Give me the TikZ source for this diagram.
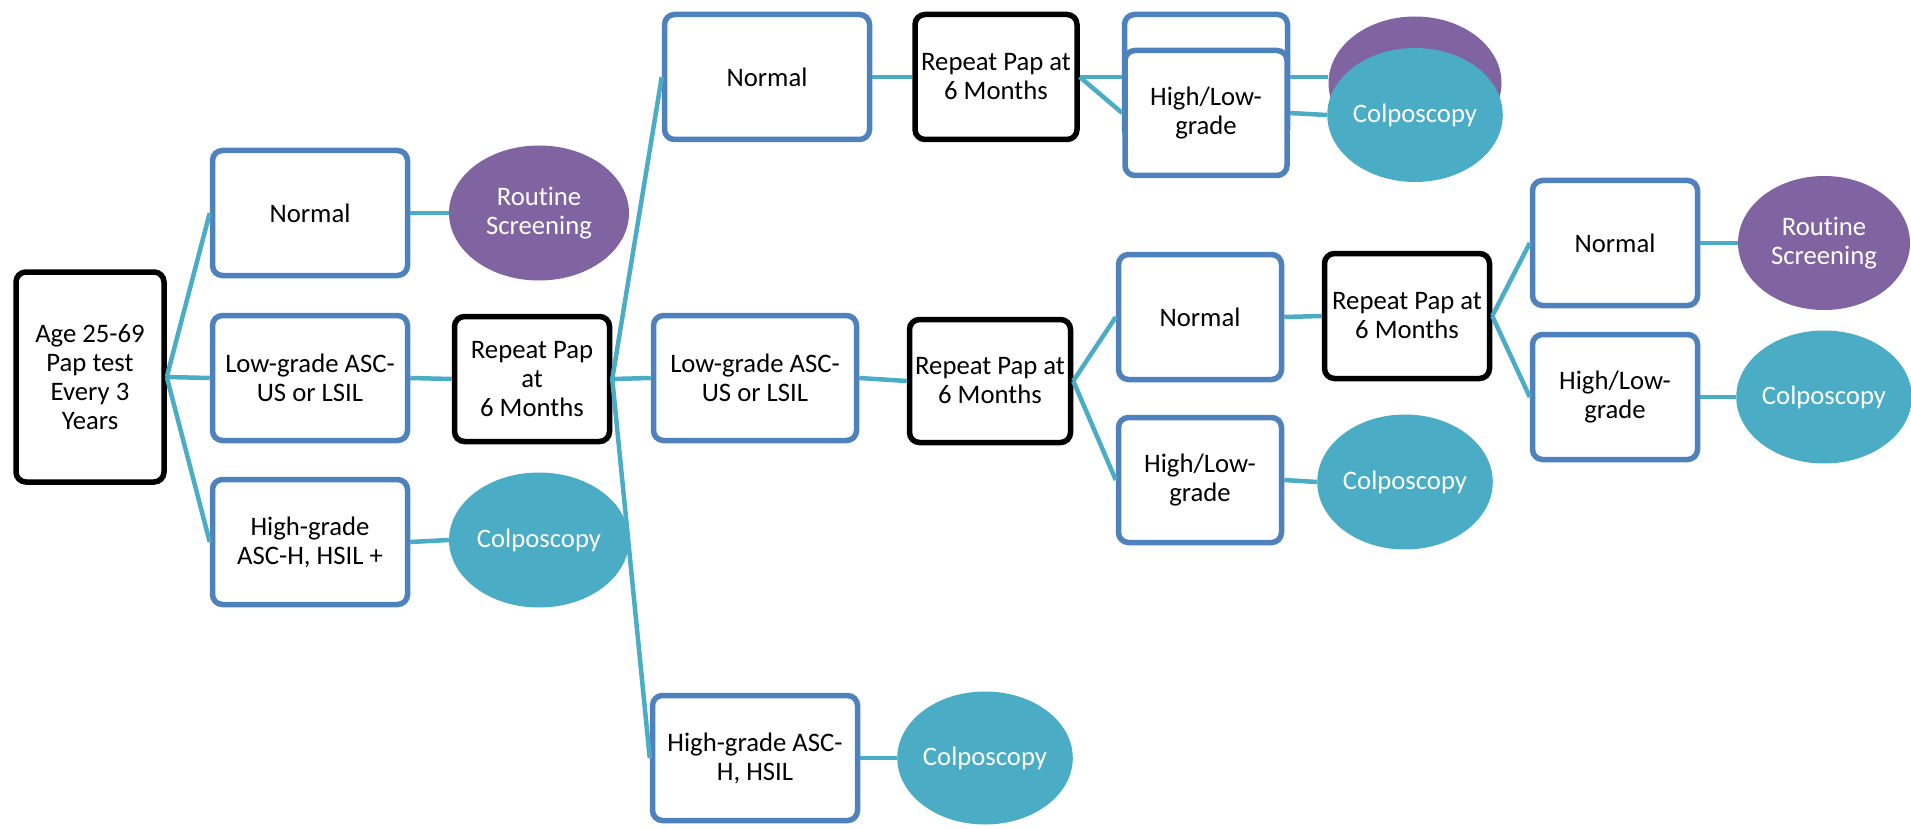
\documentclass[tikz,border=0pt]{standalone}
\usepackage{fontspec}
\setmainfont{Carlito}[Ligatures=CommonOff]
\usepackage{tikz}
\usetikzlibrary{shapes.geometric}
\definecolor{boxblue}{RGB}{79,129,189}
\definecolor{linkblue}{RGB}{75,172,198}
\definecolor{routpurple}{RGB}{128,100,162}
\tikzset{
  papnode/.style = {align=center, inner sep=0pt, text centered,
    font=\fontsize{26.7}{29}\selectfont},
  box_k/.style = {papnode, rectangle, rounded corners=10pt, draw=black,
    fill=white, line width=5.5pt, minimum height=125pt},% black box, repeat pap
  box_b/.style = {papnode, rectangle, rounded corners=10pt, draw=boxblue,
    fill=white, line width=5.5pt, minimum height=125pt},% blue box, result
  ell_p/.style = {papnode, ellipse, fill=routpurple, text=white},% routine screening
  ell_t/.style = {papnode, ellipse, fill=linkblue, text=white},% colposcopy
  link/.style = {draw=linkblue, line width=4.5pt}
}
\begin{document}
\begin{tikzpicture}[x=1pt,y=-1pt]
\useasboundingbox (0,0) rectangle (1911,829);
% first level
\node [box_k, minimum width=148pt, minimum height=210pt] (age) at (90,377) {Age 25-69\\Pap test\\Every 3\\Years};
\node [box_b, minimum width=195pt] (norm1) at (310,213) {Normal};
\node [box_b, minimum width=195pt] (low1) at (310,378) {Low-grade ASC-\\US or LSIL};
\node [box_b, minimum width=195pt] (high1) at (310,542) {High-grade\\ASC-H, HSIL +};
\node [ell_p, minimum width=180pt, minimum height=135pt] (rout1) at (539,213) {Routine\\Screening};
\node [box_k, minimum width=155pt] (rep1) at (532,379) {Repeat Pap\\at\\6 Months};
\node [ell_t, minimum width=180pt, minimum height=135pt] (colpo1) at (539,540) {Colposcopy};
% second level
\node [box_b, minimum width=205pt] (norm2) at (767,77) {Normal};
\node [box_k, minimum width=162pt] (rep2) at (996,77) {Repeat Pap at\\6 Months};
\node [box_b, minimum width=203pt] (low2) at (755,378) {Low-grade ASC-\\US or LSIL};
\node [box_k, minimum width=161pt, minimum height=123pt] (rep3) at (990,381) {Repeat Pap at\\6 Months};
\node [box_b, minimum width=205pt] (high2) at (755,758) {High-grade ASC-\\H, HSIL};
\node [ell_t, minimum width=173pt, minimum height=133pt] (colpo2) at (985,758) {Colposcopy};
% third level
\node [box_b, minimum width=163pt] (norm3) at (1200,317) {Normal};
\node [box_b, minimum width=163pt] (hl3) at (1200,480) {High/Low-\\grade};
\node [box_k, minimum width=165pt] (rep4) at (1407,316) {Repeat Pap at\\6 Months};
\node [ell_t, minimum width=173pt, minimum height=135pt] (colpo3) at (1405,482) {Colposcopy};
\node [box_b, minimum width=165pt] (norm4) at (1615,243) {Normal};
\node [box_b, minimum width=165pt] (hl4) at (1615,397) {High/Low-\\grade};
\node [ell_p, minimum width=172pt, minimum height=134pt] (rout4) at (1824,243) {Routine\\Screening};
\node [ell_t, minimum width=172pt, minimum height=133pt] (colpo4) at (1824,397) {Colposcopy};
% stacked pair, top right (back ones hidden)
\node [box_b, minimum width=163pt] (norm5) at (1206,77) {};
\node [box_b, minimum width=162pt] (hl5) at (1206,113) {High/Low-\\grade};
\node [ell_p, minimum width=173pt, minimum height=133pt] (rout5) at (1415,83) {};
\node [ell_t, minimum width=173pt, minimum height=134pt] (colpo5) at (1415,115) {Colposcopy};
% links
\foreach \a/\b in {age/norm1, age/low1, age/high1, norm1/rout1, low1/rep1, high1/colpo1,
    rep1/norm2, rep1/low2, rep1/high2, norm2/rep2, low2/rep3, high2/colpo2,
    rep2/norm5, rep2/hl5, hl5/colpo5,
    rep3/norm3, rep3/hl3, norm3/rep4, hl3/colpo3,
    rep4/norm4, rep4/hl4, norm4/rout4, hl4/colpo4}
  \draw [link] (\a.east) -- (\b.west);
\draw [link] (norm5.east) -- (norm5.east -| rout5.west);
\end{tikzpicture}
\end{document}
